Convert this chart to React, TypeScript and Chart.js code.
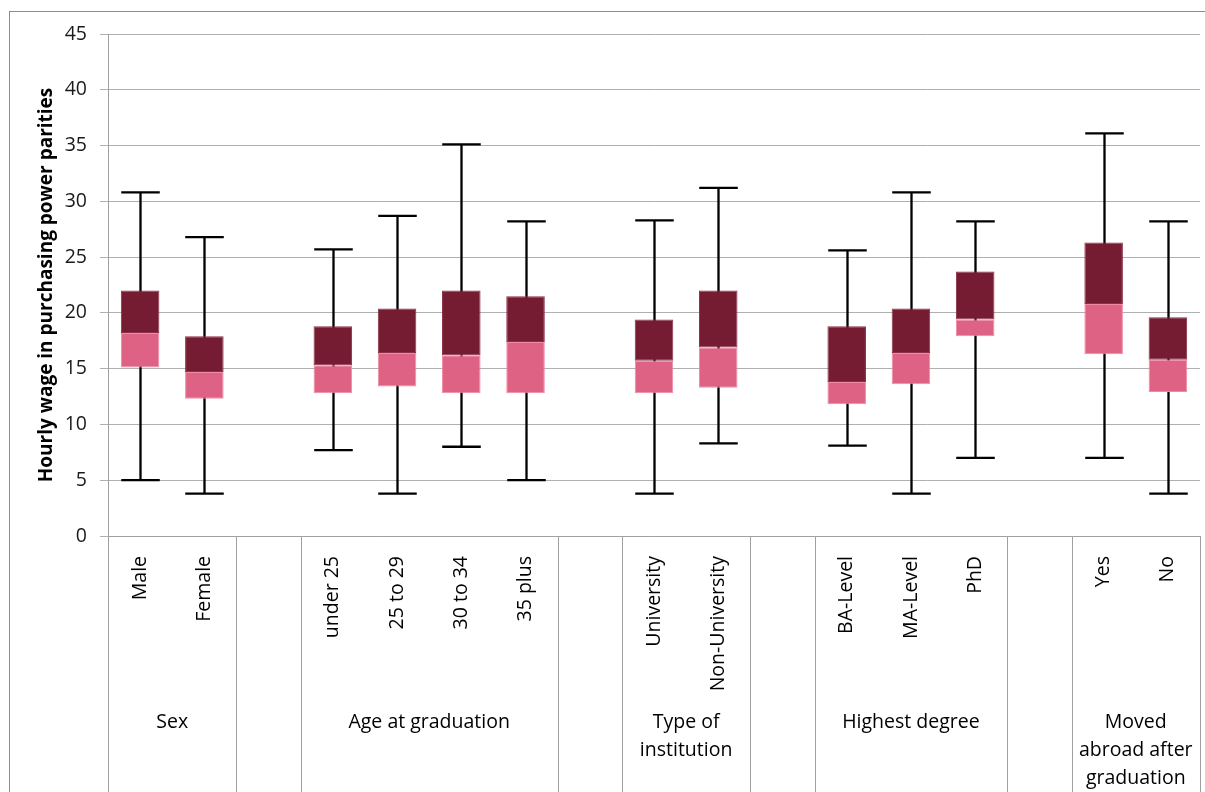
import React, { useEffect, useRef } from "react";
import { Chart, registerables } from "chart.js";

Chart.register(...registerables);

const categories = [
  "Male", "Female", "",
  "under 25", "25 to 29", "30 to 34", "35 plus", "",
  "University", "Non-University", "",
  "BA-Level", "MA-Level", "PhD", "",
  "Yes", "No",
];
const minValues = [5.0, 3.8, null, 7.7, 3.8, 8.0, 5.0, null, 3.8, 8.3, null, 8.1, 3.8, 7.0, null, 7.0, 3.8];
const q1Values = [15.1, 12.3, null, 12.8, 13.4, 12.8, 12.8, null, 12.8, 13.3, null, 11.8, 13.6, 17.9, null, 16.3, 12.9];
const medianValues = [18.2, 14.7, null, 15.3, 16.4, 16.2, 17.4, null, 15.7, 16.9, null, 13.8, 16.4, 19.4, null, 20.8, 15.8];
const q3Values = [22.0, 17.9, null, 18.8, 20.4, 22.0, 21.5, null, 19.4, 22.0, null, 18.8, 20.4, 23.7, null, 26.3, 19.6];
const maxValues = [30.8, 26.8, null, 25.7, 28.7, 35.1, 28.2, null, 28.3, 31.2, null, 25.6, 30.8, 28.2, null, 36.1, 28.2];

const groupLabels = [["Sex"], ["Age at graduation"], ["Type of", "institution"], ["Highest degree"], ["Moved", "abroad after", "graduation"]];
const groupStart = [0, 3, 8, 11, 15];
const groupEnd = [1, 6, 9, 13, 16];
const separatorIndex = [0, 2, 3, 7, 8, 10, 11, 14, 15, 17];

const yTitle = "Hourly wage in purchasing power parities";
const FONT = "'Open Sans', 'Noto Sans', sans-serif";

const boxPlugin = {
  id: "boxExtras",
  beforeDraw(chart: any) {
    const { ctx } = chart;
    ctx.save();
    ctx.strokeStyle = "#8c8c8c";
    ctx.lineWidth = 1;
    ctx.strokeRect(9.5, 11.5, 1400, 1000);
    ctx.restore();
  },
  beforeDatasetsDraw(chart: any) {
    const { ctx } = chart;
    const x = chart.scales.x;
    const y = chart.scales.y;
    const meta = chart.getDatasetMeta(0);
    ctx.save();
    ctx.strokeStyle = "#000";
    ctx.lineWidth = 2.3;
    for (let i = 0; i < categories.length; i++) {
      const lo = minValues[i];
      const hi = maxValues[i];
      if (lo == null || hi == null) continue;
      const px = Math.round(x.getPixelForValue(i)) + 0.5;
      const el = meta.data[i] as any;
      const half = el && el.width ? el.width / 2 : 19;
      const yHi = y.getPixelForValue(hi);
      const yLo = y.getPixelForValue(lo);
      ctx.beginPath();
      ctx.moveTo(px, yHi);
      ctx.lineTo(px, yLo);
      ctx.moveTo(px - half, yHi);
      ctx.lineTo(px + half, yHi);
      ctx.moveTo(px - half, yLo);
      ctx.lineTo(px + half, yLo);
      ctx.stroke();
    }
    ctx.restore();
  },
  afterDraw(chart: any) {
    const { ctx } = chart;
    const x = chart.scales.x;
    const y = chart.scales.y;
    const axisY = y.getPixelForValue(0);
    const step = x.getPixelForValue(1) - x.getPixelForValue(0);
    ctx.save();
    ctx.strokeStyle = "#a0a0a0";
    ctx.lineWidth = 1;
    for (const idx of separatorIndex) {
      const px = Math.round(x.getPixelForValue(idx) - step / 2) + 0.5;
      ctx.beginPath();
      ctx.moveTo(px, axisY);
      ctx.lineTo(px, chart.height);
      ctx.stroke();
    }
    ctx.fillStyle = "#000";
    ctx.font = `19.5px ${FONT}`;
    ctx.textAlign = "center";
    ctx.textBaseline = "middle";
    groupLabels.forEach((lines, g) => {
      const cx = (x.getPixelForValue(groupStart[g]) + x.getPixelForValue(groupEnd[g])) / 2;
      lines.forEach((t, k) => {
        ctx.fillText(t, cx, 722 + k * 28);
      });
    });
    ctx.restore();
  },
};

export default function App() {
  const ref = useRef<HTMLCanvasElement | null>(null);
  useEffect(() => {
    if (!ref.current) return;
    const lower = q1Values.map((q, i) => (q == null ? null : [q, medianValues[i] as number]));
    const upper = medianValues.map((m, i) => (m == null ? null : [m, q3Values[i] as number]));
    const chart = new Chart(ref.current, {
      type: "bar",
      data: {
        labels: categories,
        datasets: [
          {
            label: "Q1-Median",
            data: lower as any,
            backgroundColor: "#de6283",
            borderColor: "#f08aa5",
            borderWidth: 1,
            borderSkipped: false,
            barPercentage: 0.6,
            categoryPercentage: 1,
            grouped: false,
          },
          {
            label: "Median-Q3",
            data: upper as any,
            backgroundColor: "#751b32",
            borderColor: "#8a3048",
            borderWidth: 1,
            borderSkipped: false,
            barPercentage: 0.6,
            categoryPercentage: 1,
            grouped: false,
          },
        ],
      },
      options: {
        animation: false,
        responsive: false,
        maintainAspectRatio: false,
        layout: { padding: { top: 34, left: 0, right: 5, bottom: 0 } },
        plugins: { legend: { display: false }, tooltip: { enabled: false } },
        scales: {
          x: {
            grid: { display: false },
            border: { display: true, color: "#a0a0a0" },
            ticks: {
              autoSkip: false,
              minRotation: 90,
              maxRotation: 90,
              padding: 12,
              color: "#000",
              font: { family: FONT, size: 19.5 },
            },
            afterFit(scale: any) {
              scale.height = 256;
            },
          },
          y: {
            min: 0,
            max: 45,
            ticks: {
              stepSize: 5,
              padding: 13,
              color: "#1a1a1a",
              font: { family: FONT, size: 19.5 },
            },
            grid: { color: "#b0b0b0", tickLength: 8, lineWidth: 1 },
            border: { display: true, color: "#a0a0a0" },
            title: {
              display: true,
              text: yTitle,
              color: "#000",
              font: { family: FONT, size: 19, weight: "bold" },
              padding: { top: 35, bottom: 0 },
            },
            afterFit(scale: any) {
              scale.width = 108;
            },
          },
        },
      },
      plugins: [boxPlugin],
    });
    return () => chart.destroy();
  }, []);
  return (
    <div style={{ position: "absolute", left: 0, top: 0, width: 1205, height: 792, background: "#fff" }}>
      <canvas ref={ref} width={1205} height={792} style={{ display: "block", width: 1205, height: 792 }} />
    </div>
  );
}
